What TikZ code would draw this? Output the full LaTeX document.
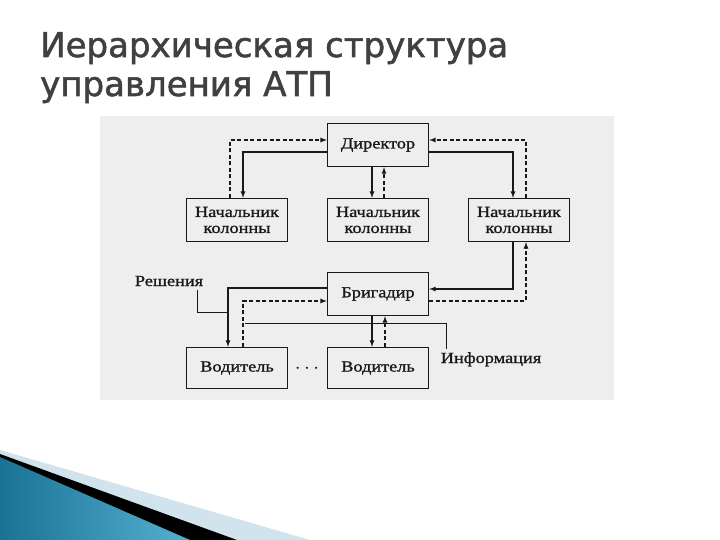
\documentclass[tikz,border=0pt]{standalone}
\usepackage{fontspec}
\setmainfont[FakeStretch=1.18, FakeBold=1.2]{Liberation Serif}
\newfontfamily\zagfont[FakeBold=1.6]{DejaVu Sans}

\begin{document}
\begin{tikzpicture}[x=1pt, y=-1pt, >=latex,
		blok/.style={draw=ink, line width=1.3pt, minimum width=101pt, minimum height=43pt, inner sep=1pt, align=center, text=ink, font=\fontsize{15.5}{16}\selectfont},
		pryam/.style={->, draw=ink, line width=1.2pt},
		punkt/.style={->, draw=ink, line width=1.2pt, dash pattern=on 4pt off 2.5pt},
		vynos/.style={draw=ink, line width=0.6pt},
		metka/.style={text=ink, inner sep=0pt, font=\fontsize{15.5}{16}\selectfont}]
			\definecolor{ink}{rgb}{0.1,0.1,0.1}
				\definecolor{zag}{rgb}{0.25,0.25,0.25}
				\definecolor{morsk}{rgb}{0.1,0.45,0.58}
				\definecolor{morskl}{rgb}{0.33,0.69,0.82}
				\definecolor{goluboy}{rgb}{0.82,0.89,0.93}
				
				\useasboundingbox (0,0) rectangle (720,540);
				\fill[white](0,0)rectangle(720,540);
				
				% title
				\node[anchor=base west, inner sep=0pt, text=zag, font=\zagfont\fontsize{34}{39}\selectfont] (zag1) at (40,57) {Иерархическая структура};
				\node[anchor=base west, inner sep=0pt, text=zag, font=\zagfont\fontsize{34}{39}\selectfont] (zag2) at (40,96) {управления АТП};
				
				% scanned page
				\fill[gray!13](100,116)rectangle(614,400);
				
				% boxes
				\node[blok] (dir) at (378,145) {Директор};
				\foreach \x/\n in {237/L,378/M,519/R}{
						\node[blok] (nach\n) at (\x,220) {Начальник\\колонны};
					}
				\node[blok] (brig) at (378,294) {Бригадир};
				\foreach \x/\n in {237/L,378/R}{
						\node[blok, minimum height=41pt] (vod\n) at (\x,368) {Водитель};
					}
				\node[metka, font=\fontsize{22}{22}\selectfont] (tochki) at (307,369) {$\cdots$};
				
				% director -- column heads
				\draw[pryam]([yshift=-7pt]dir.west)-|([xshift=6pt]nachL.north);
				\draw[punkt]([xshift=-7pt]nachL.north)|-([yshift=5pt]dir.west);
				\draw[pryam]([xshift=-6pt]dir.south)--([xshift=-6pt]nachM.north);
				\draw[punkt]([xshift=6pt]nachM.north)--([xshift=6pt]dir.south);
				\draw[pryam]([yshift=-7pt]dir.east)-|([xshift=-6pt]nachR.north);
				\draw[punkt]([xshift=7pt]nachR.north)|-([yshift=5pt]dir.east);
				
				% column head -- foreman
				\draw[pryam]([xshift=-6pt]nachR.south)|-([yshift=5pt]brig.east);
				\draw[punkt]([yshift=-7pt]brig.east)-|([xshift=7pt]nachR.south);
				
				% foreman -- drivers
				\draw[pryam]([yshift=6pt]brig.west)-|([xshift=-9pt]vodL.north);
				\draw[punkt]([xshift=6pt]vodL.north)|-([yshift=-7pt]brig.west);
				\draw[pryam]([xshift=-6pt]brig.south)--([xshift=-6pt]vodR.north);
				\draw[punkt]([xshift=7pt]vodR.north)--([xshift=7pt]brig.south);
				
				% labels
				\node[metka, anchor=base] (resh) at (169,286) {Решения};
				\node[metka, anchor=base] (info) at (491,363) {Информация};
				\coordinate (rkon) at (228,312);
				\coordinate (ikon) at (245,323);
				\draw[vynos]([xshift=-6pt,yshift=-4pt]resh.south east)|-(rkon);
				\draw[vynos](ikon)-|([xshift=6pt,yshift=3pt]info.north west);
				
				% corner decoration
				\fill[goluboy](0,450)--(310,540)--(0,540)--cycle;
				\fill[black](0,454)--(237,540)--(0,540)--cycle;
				\shade[left color=morsk, right color=morskl](0,457)--(190,540)--(0,540)--cycle;
		\end{tikzpicture}
\end{document}
